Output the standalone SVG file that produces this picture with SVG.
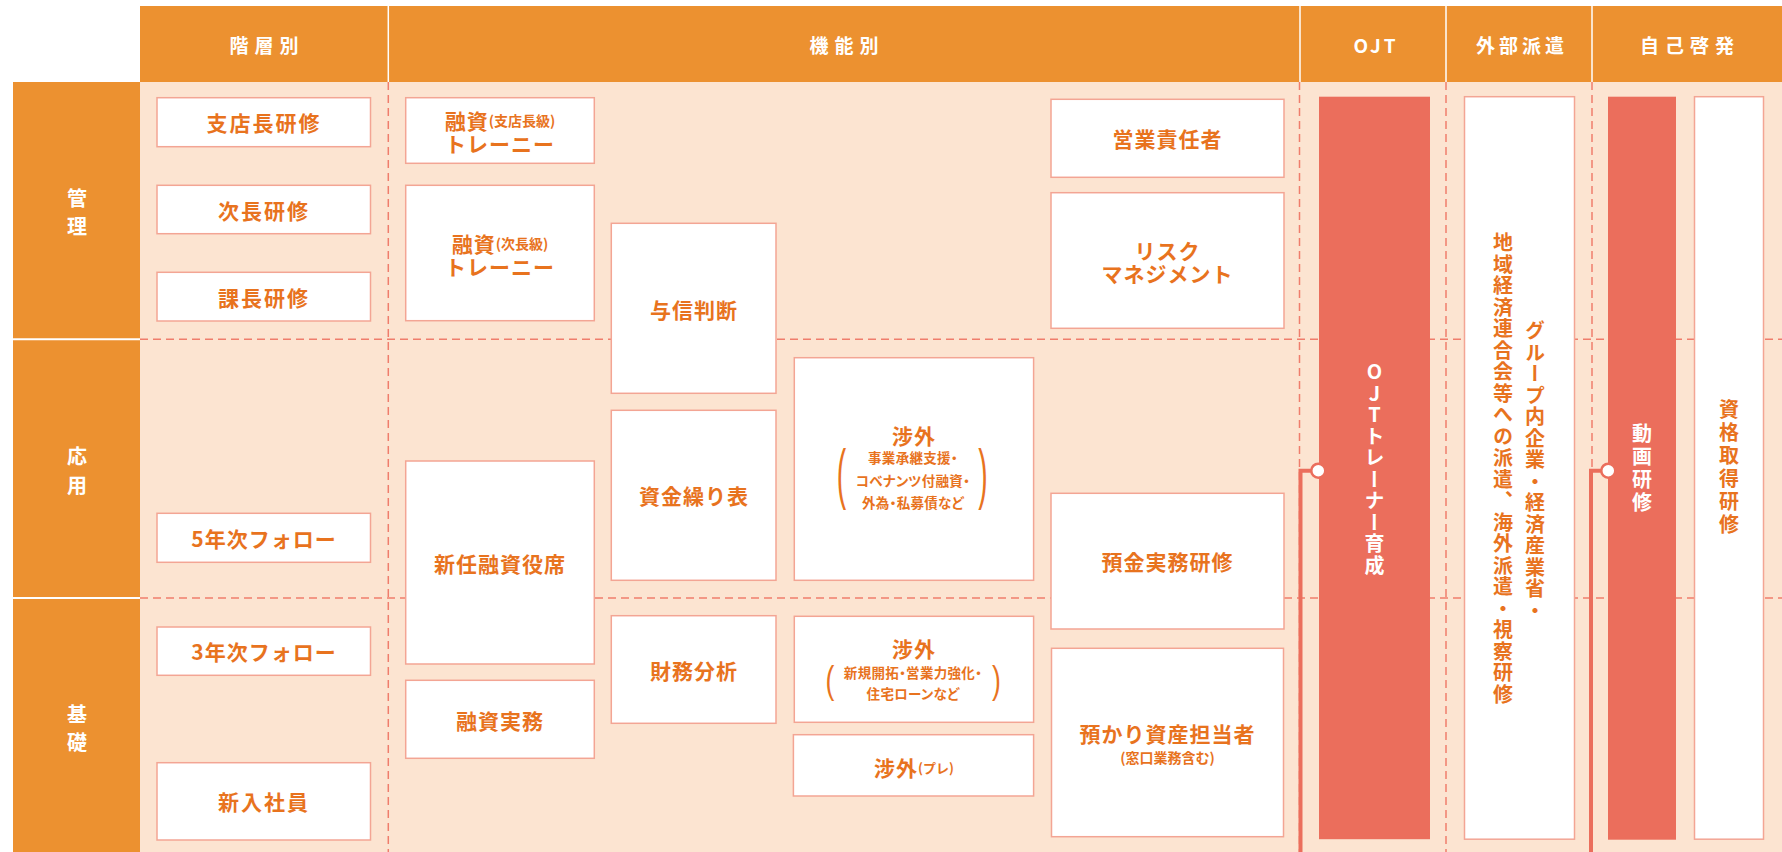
<svg xmlns="http://www.w3.org/2000/svg" width="1782" height="852" viewBox="0 0 1782 852">
<style>
.hdr{fill:#EC9130}
.bg{fill:#FCE4D1}
.box{fill:#fff;stroke:#F3A594;stroke-width:1.5}
.wbar{fill:#fff;stroke:#F3A594;stroke-width:1.5}
.bar{fill:#EB6E5C}
.dash{stroke:#EF7D6C;stroke-width:1.5;stroke-dasharray:8 5;fill:none}
.wl{stroke:#fff;stroke-width:1.5}
.t{font-family:"Noto Sans CJK JP","Noto Sans CJK SC",sans-serif;font-weight:700;font-size:21px;fill:#E8731E;text-anchor:middle;dominant-baseline:central;letter-spacing:1px}
.s{font-size:14px;letter-spacing:0}
.sub{font-size:13.5px;letter-spacing:0.3px;font-feature-settings:"palt"}
.ht{font-family:"Noto Sans CJK JP","Noto Sans CJK SC",sans-serif;font-weight:700;font-size:19px;fill:#fff;text-anchor:middle;dominant-baseline:central;letter-spacing:6px}
.lt{font-family:"Noto Sans CJK JP","Noto Sans CJK SC",sans-serif;font-weight:700;font-size:20px;fill:#fff;text-anchor:middle;dominant-baseline:central}
.vt{font-family:"Noto Sans CJK JP","Noto Sans CJK SC",sans-serif;font-weight:700;font-size:20px;text-anchor:middle;writing-mode:vertical-rl;text-orientation:upright}
.paren{font-family:"Liberation Sans",sans-serif;font-weight:400;fill:#E8731E;text-anchor:middle}
.conn{stroke:#EB6E5C;stroke-width:4;fill:none}
.dot{fill:#fff;stroke:#EB6E5C;stroke-width:2.5}
</style>

<g id="frame">
  <rect class="hdr" x="140" y="6" width="1642" height="76"/>
  <rect class="hdr" x="13" y="82" width="127" height="770"/>
  <rect class="bg" x="140" y="82" width="1642" height="770"/>
  <line class="wl" x1="388.3" y1="6" x2="388.3" y2="82"/>
  <line class="wl" x1="1300" y1="6" x2="1300" y2="82"/>
  <line class="wl" x1="1446" y1="6" x2="1446" y2="82"/>
  <line class="wl" x1="1592" y1="6" x2="1592" y2="82"/>
  <line class="wl" x1="13" y1="339.3" x2="140" y2="339.3" style="stroke-width:2"/>
  <line class="wl" x1="13" y1="598" x2="140" y2="598" style="stroke-width:2"/>
  <line class="dash" x1="140" y1="339.3" x2="1782" y2="339.3"/>
  <line class="dash" x1="140" y1="598" x2="1782" y2="598"/>
  <line class="dash" x1="388.3" y1="82" x2="388.3" y2="852"/>
  <line class="dash" x1="1299.5" y1="82" x2="1299.5" y2="852"/>
  <line class="dash" x1="1446" y1="82" x2="1446" y2="852"/>
  <line class="dash" x1="1592" y1="82" x2="1592" y2="852"/>
</g>

<g id="headers">
  <text class="ht" x="267" y="44">階層別</text>
  <text class="ht" x="847" y="44">機能別</text>
  <text class="ht" x="1376" y="44" style="letter-spacing:3px">OJT</text>
  <text class="ht" x="1522" y="44" style="letter-spacing:4px">外部派遣</text>
  <text class="ht" x="1690" y="44">自己啓発</text>
</g>

<g id="levels">
  <text class="lt" x="77" y="197">管</text>
  <text class="lt" x="77" y="225">理</text>
  <text class="lt" x="77" y="455">応</text>
  <text class="lt" x="77" y="484">用</text>
  <text class="lt" x="77" y="713">基</text>
  <text class="lt" x="77" y="741">礎</text>
</g>

<g id="n-shitencho"><rect class="box" x="157" y="97.7" width="213.5" height="49"/><text class="t" x="264" y="122" style="letter-spacing:2px">支店長研修</text></g>
<g id="n-jicho"><rect class="box" x="157" y="185.3" width="213.5" height="48.4"/><text class="t" x="264" y="209.5" style="letter-spacing:2px">次長研修</text></g>
<g id="n-kacho"><rect class="box" x="157" y="272.3" width="213.5" height="48.7"/><text class="t" x="264" y="296.7" style="letter-spacing:2px">課長研修</text></g>
<g id="n-5nen"><rect class="box" x="157" y="513.3" width="213.5" height="49"/><text class="t" x="264" y="537.8">5年次フォロー</text></g>
<g id="n-3nen"><rect class="box" x="157" y="627" width="213.5" height="48.3"/><text class="t" x="264" y="651">3年次フォロー</text></g>
<g id="n-shinnyu"><rect class="box" x="157" y="762.7" width="213.5" height="77.3"/><text class="t" x="264" y="801.4" style="letter-spacing:2px">新入社員</text></g>

<g id="n-yushi-shitencho"><rect class="box" x="405.7" y="97.7" width="188.6" height="65.6"/>
  <text class="t" x="500" y="120">融資<tspan class="s">(支店長級)</tspan></text>
  <text class="t" x="500" y="143.3">トレーニー</text></g>
<g id="n-yushi-jicho"><rect class="box" x="405.7" y="185.3" width="188.6" height="135.4"/>
  <text class="t" x="500" y="243.3">融資<tspan class="s">(次長級)</tspan></text>
  <text class="t" x="500" y="265.7">トレーニー</text></g>
<g id="n-shinnin"><rect class="box" x="405.7" y="461" width="188.6" height="203"/><text class="t" x="500" y="563.3">新任融資役席</text></g>
<g id="n-yushijitsumu"><rect class="box" x="405.7" y="680.3" width="188.6" height="78"/><text class="t" x="500" y="720">融資実務</text></g>

<g id="n-yoshin"><rect class="box" x="611.3" y="223.3" width="164.7" height="170"/><text class="t" x="694" y="309">与信判断</text></g>
<g id="n-shikinguri"><rect class="box" x="611.3" y="410.3" width="164.7" height="170"/><text class="t" x="694" y="495">資金繰り表</text></g>
<g id="n-zaimu"><rect class="box" x="611.3" y="615.7" width="164.7" height="107.6"/><text class="t" x="694" y="670">財務分析</text></g>

<g id="n-shogai1"><rect class="box" x="794.3" y="357.7" width="239.3" height="222.6"/>
  <text class="t" x="914" y="435">涉外</text>
  <text class="t sub" x="913" y="456.7">事業承継支援・</text>
  <text class="t sub" x="913" y="480">コベナンツ付融資・</text>
  <text class="t sub" x="913" y="501.7">外為・私募債など</text>
  <text class="paren" transform="translate(841.5,496) scale(0.42,1)" style="font-size:67px">(</text>
  <text class="paren" transform="translate(983,496) scale(0.42,1)" style="font-size:67px">)</text></g>
<g id="n-shogai2"><rect class="box" x="794.3" y="616.3" width="239.3" height="106"/>
  <text class="t" x="914" y="648.3">涉外</text>
  <text class="t sub" x="913" y="671.7">新規開拓・営業力強化・</text>
  <text class="t sub" x="913" y="693.3">住宅ローンなど</text>
  <text class="paren" transform="translate(830,693) scale(0.7,1)" style="font-size:38px">(</text>
  <text class="paren" transform="translate(996.5,693) scale(0.7,1)" style="font-size:38px">)</text></g>
<g id="n-shogai-pre"><rect class="box" x="793.4" y="734.7" width="240.2" height="61.3"/>
  <text class="t" x="914" y="766.7">涉外<tspan style="font-size:13px;letter-spacing:0">(プレ)</tspan></text></g>

<g id="n-eigyo"><rect class="box" x="1051" y="99.3" width="233" height="78"/><text class="t" x="1167.5" y="138.3">営業責任者</text></g>
<g id="n-risk"><rect class="box" x="1051" y="192.7" width="233" height="135.6"/>
  <text class="t" x="1167.5" y="250">リスク</text>
  <text class="t" x="1167.5" y="273.3">マネジメント</text></g>
<g id="n-yokin"><rect class="box" x="1051" y="493.3" width="233" height="135.7"/><text class="t" x="1167.5" y="561">預金実務研修</text></g>
<g id="n-azukari"><rect class="box" x="1051.5" y="648.3" width="232" height="188.4"/>
  <text class="t" x="1167.5" y="733.3">預かり資産担当者</text>
  <text class="t s" x="1167.5" y="756.7">(窓口業務含む)</text></g>

<g id="connectors">
  <polyline class="conn" points="1318.3,470.7 1300.5,470.7 1300.5,852"/>
  <polyline class="conn" points="1608.3,470.7 1591,470.7 1591,852"/>
</g>

<g id="n-ojt"><rect class="bar" x="1319" y="96.7" width="111" height="742.5"/>
  <text class="vt" x="1374.5" y="469" style="fill:#fff;letter-spacing:1.5px">OJTトレーナー育成</text></g>
<g id="n-haken"><rect class="wbar" x="1464.5" y="96.7" width="110" height="742.5"/>
  <text class="vt" x="1535" y="471" style="fill:#E8731E;letter-spacing:1.5px">グループ内企業・経済産業省・</text>
  <text class="vt" x="1503" y="469" style="fill:#E8731E;letter-spacing:1.5px">地域経済連合会等への派遣、海外派遣・視察研修</text></g>
<g id="n-douga"><rect class="bar" x="1608" y="96.7" width="68" height="743"/>
  <text class="vt" x="1642" y="469" style="fill:#fff;letter-spacing:3px">動画研修</text></g>
<g id="n-shikaku"><rect class="wbar" x="1694.5" y="96.7" width="69" height="742.5"/>
  <text class="vt" x="1729" y="468" style="fill:#E8731E;letter-spacing:3px">資格取得研修</text></g>

<g id="dots">
  <circle class="dot" cx="1318.3" cy="470.7" r="7"/>
  <circle class="dot" cx="1608.3" cy="470.7" r="7"/>
</g>
</svg>
